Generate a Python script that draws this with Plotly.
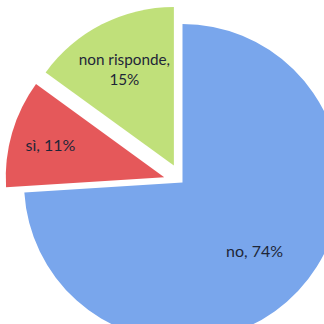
import plotly.graph_objects as go

# Survey answers (percent)
labels = ["no", "sì", "non risponde"]
values = [74, 11, 15]
colors = ["#79a6ec", "#e5585a", "#c0e07a"]
pulls = [0.0, 0.12, 0.12]

# Slice text: "label, value%" with a line break for the long label
texts = [f"{lab},{'<br>' if len(lab) > 6 else ' '}{val}%" for lab, val in zip(labels, values)]
# the big slice gets its label from a ring overlay so it sits further out
big = values.index(max(values))
inner_texts = ["" if i == big else t for i, t in enumerate(texts)]
ring_texts = [t if i == big else "" for i, t in enumerate(texts)]

font = dict(family="Lato", size=16, color="#1e2638")
common = dict(
    labels=labels,
    values=values,
    pull=pulls,
    sort=False,
    direction="clockwise",
    rotation=0,
    showlegend=False,
    hoverinfo="skip",
    textinfo="text",
    textposition="inside",
    insidetextorientation="horizontal",
    insidetextfont=font,
)

fig = go.Figure()
fig.add_trace(go.Pie(text=inner_texts, marker=dict(colors=colors, line=dict(width=0)), **common))
fig.add_trace(
    go.Pie(
        text=ring_texts,
        hole=0.25,
        marker=dict(colors=["rgba(0,0,0,0)"] * len(values), line=dict(width=0)),
        **common,
    )
)

fig.update_layout(
    width=365,
    height=365,
    margin=dict(l=5, r=5, t=5, b=5),
    paper_bgcolor="white",
    plot_bgcolor="white",
)

fig.write_html(
    "out.html",
    post_script="document.body.style.overflow='hidden';document.documentElement.style.overflow='hidden';",
)
